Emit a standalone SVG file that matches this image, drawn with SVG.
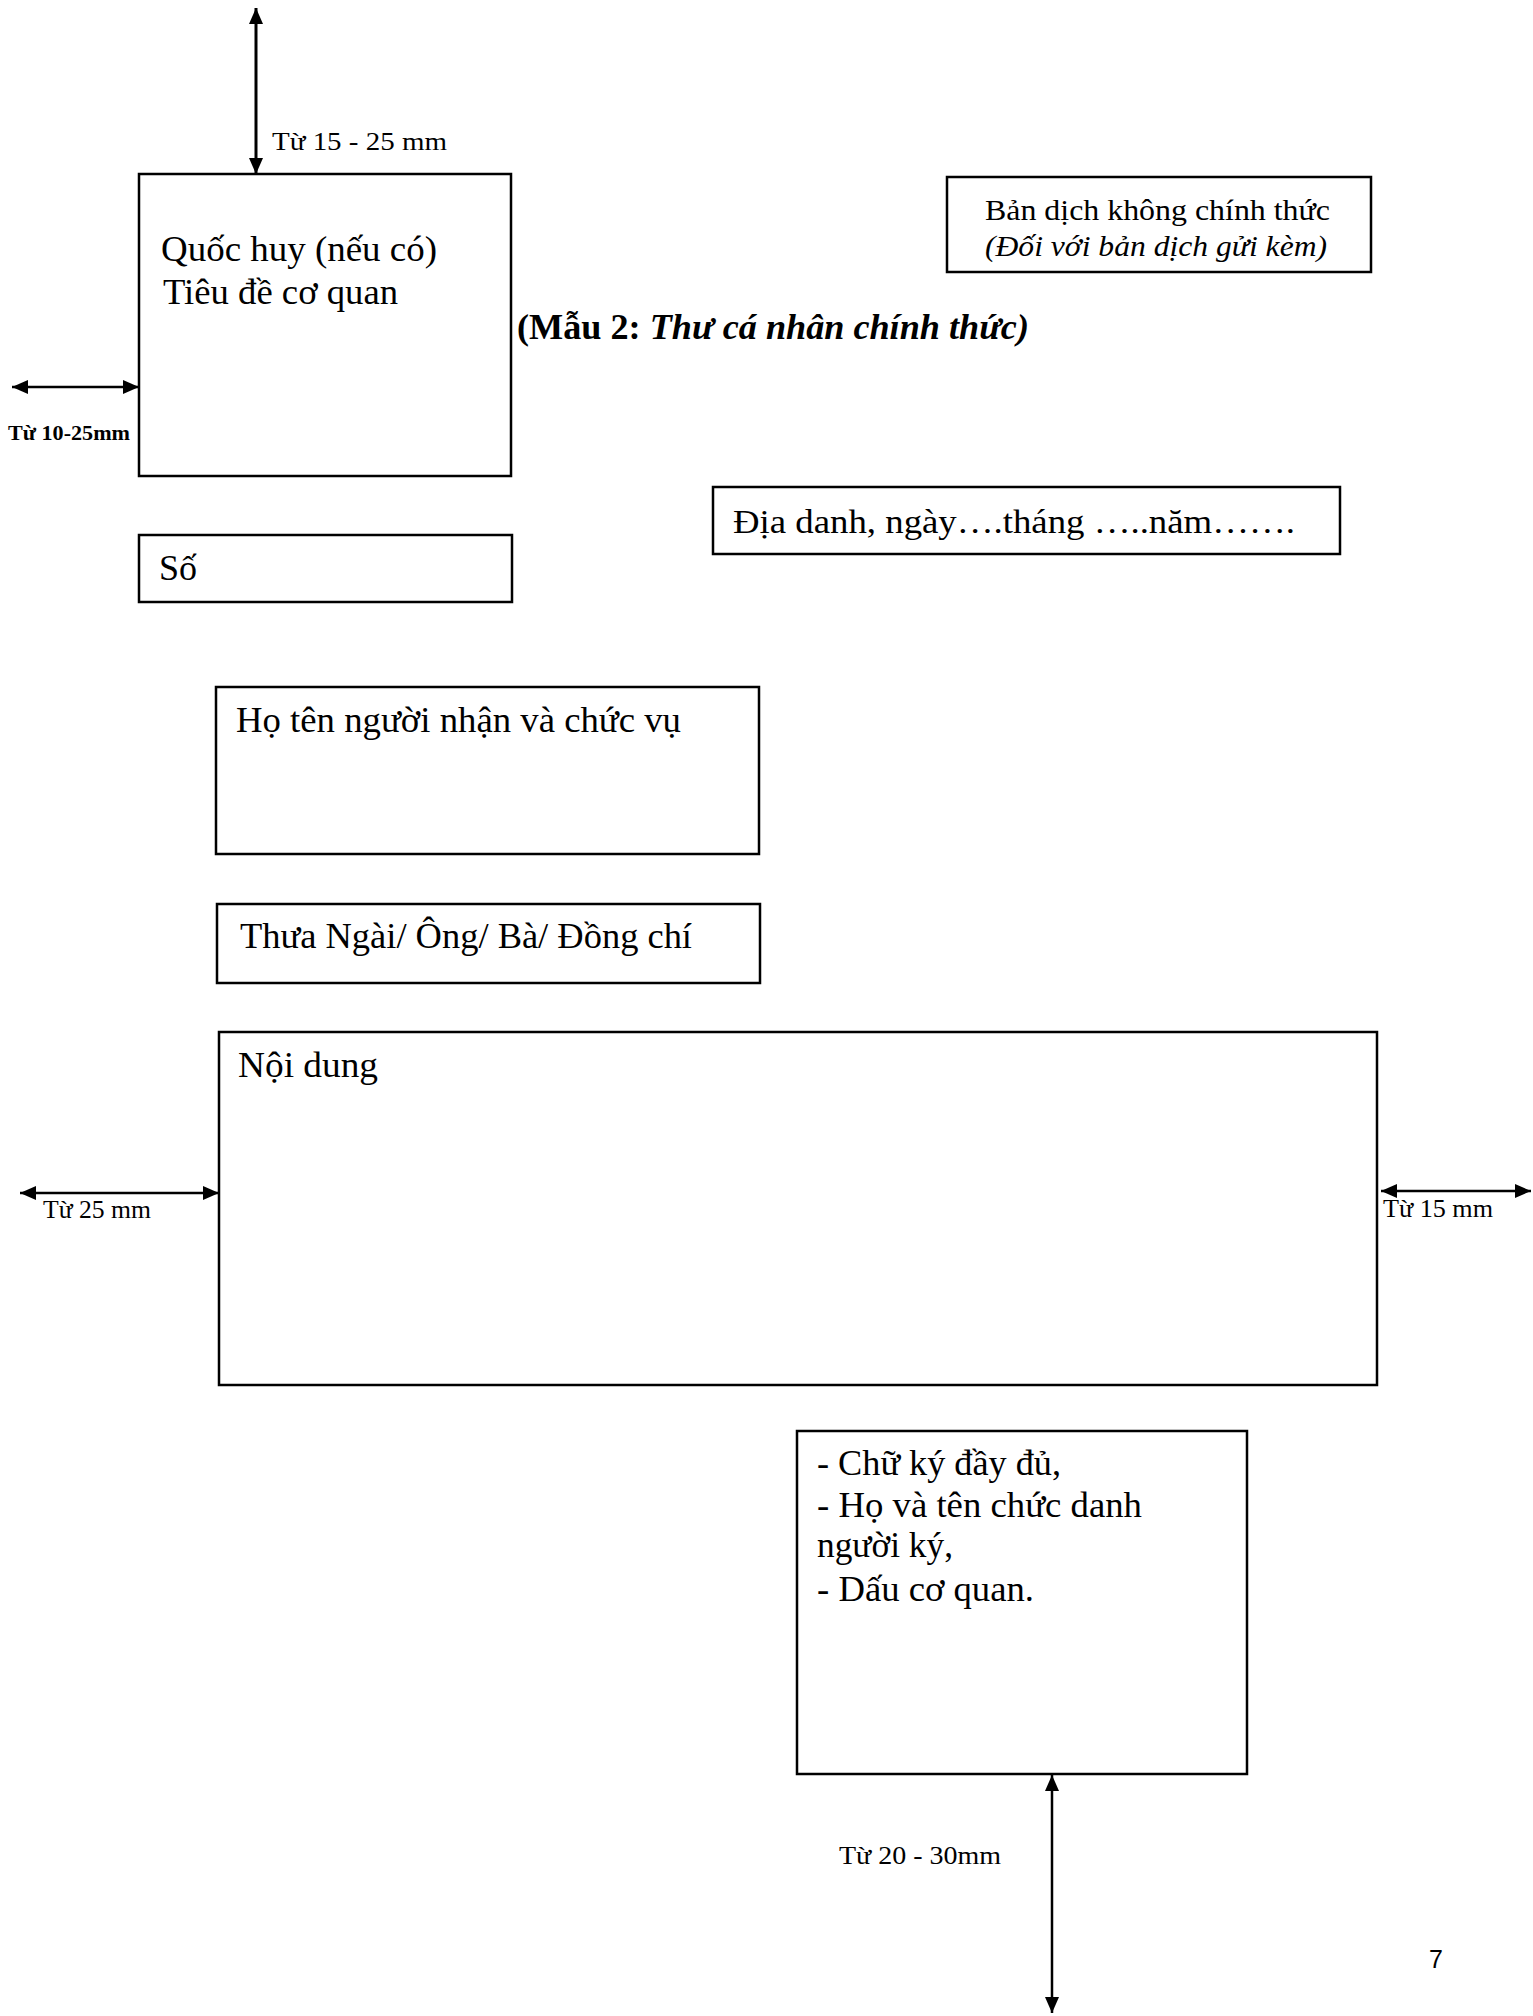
<svg xmlns="http://www.w3.org/2000/svg" width="1533" height="2016" viewBox="0 0 1533 2016">
<style>
  .box { fill: none; stroke: #000; stroke-width: 2.5; }
  .t { font-family: "Liberation Serif", "Times New Roman", serif; fill: #000; }
  .body { font-size: 36px; }
  .lbl { font-size: 25px; }
  .arr { stroke: #000; stroke-width: 2.5; fill: none; marker-start: url(#ah); marker-end: url(#ah); }
</style>
<defs>
  <marker id="ah" markerUnits="userSpaceOnUse" markerWidth="17" markerHeight="15" refX="16" refY="7" orient="auto-start-reverse" viewBox="0 0 17 15">
    <path d="M0,0 L16,7 L0,14 Z" fill="#000"/>
  </marker>
</defs>
<rect width="1533" height="2016" fill="#fff"/>

<g id="connectors">
  <line class="arr" x1="256" y1="8" x2="256" y2="174" style="stroke-width:3"/>
  <line class="arr" x1="12" y1="387" x2="139" y2="387"/>
  <line class="arr" x1="20" y1="1193" x2="219" y2="1193"/>
  <line class="arr" x1="1381" y1="1191" x2="1531" y2="1191"/>
  <line class="arr" x1="1052" y1="1775" x2="1052" y2="2013"/>
</g>

<g id="label-top">
  <text class="t" x="272" y="150" font-size="26" textLength="175" lengthAdjust="spacingAndGlyphs">Từ 15 - 25 mm</text>
</g>
<g id="label-left-top">
  <text class="t" x="8" y="440" font-size="22" font-weight="bold" textLength="122" lengthAdjust="spacingAndGlyphs">Từ 10-25mm</text>
</g>

<g id="node-header">
  <rect class="box" x="139" y="174" width="372" height="302"/>
  <text class="t body" x="161" y="261" textLength="276" lengthAdjust="spacingAndGlyphs">Quốc huy (nếu có)</text>
  <text class="t body" x="163" y="304" textLength="235" lengthAdjust="spacingAndGlyphs">Tiêu đề cơ quan</text>
</g>

<g id="node-so">
  <rect class="box" x="139" y="535" width="373" height="67"/>
  <text class="t body" x="159" y="580">Số</text>
</g>

<g id="node-translation">
  <rect class="box" x="947" y="177" width="424" height="95"/>
  <text class="t" x="985" y="220" font-size="30" textLength="345" lengthAdjust="spacingAndGlyphs">Bản dịch không chính thức</text>
  <text class="t" x="985" y="256" font-size="30" font-style="italic" textLength="342" lengthAdjust="spacingAndGlyphs">(Đối với bản dịch gửi kèm)</text>
</g>

<g id="title">
  <text class="t" x="517" y="339" font-size="35" font-weight="bold" textLength="512" lengthAdjust="spacingAndGlyphs">(Mẫu 2: <tspan font-style="italic">Thư cá nhân chính thức)</tspan></text>
</g>

<g id="node-date">
  <rect class="box" x="713" y="487" width="627" height="67"/>
  <text class="t" x="733" y="533" font-size="33" textLength="562" lengthAdjust="spacingAndGlyphs">Địa danh, ngày….tháng …..năm…….</text>
</g>

<g id="node-recipient">
  <rect class="box" x="216" y="687" width="543" height="167"/>
  <text class="t body" x="236" y="732" textLength="445" lengthAdjust="spacingAndGlyphs">Họ tên người nhận và chức vụ</text>
</g>

<g id="node-greeting">
  <rect class="box" x="217" y="904" width="543" height="79"/>
  <text class="t body" x="240" y="948" textLength="452" lengthAdjust="spacingAndGlyphs">Thưa Ngài/ Ông/ Bà/ Đồng chí</text>
</g>

<g id="node-content">
  <rect class="box" x="219" y="1032" width="1158" height="353"/>
  <text class="t body" x="238" y="1077" textLength="140" lengthAdjust="spacingAndGlyphs">Nội dung</text>
</g>

<g id="label-left-content">
  <text class="t lbl" x="43" y="1218" textLength="108" lengthAdjust="spacingAndGlyphs">Từ 25 mm</text>
</g>
<g id="label-right-content">
  <text class="t lbl" x="1383" y="1217" textLength="110" lengthAdjust="spacingAndGlyphs">Từ 15 mm</text>
</g>

<g id="node-signature">
  <rect class="box" x="797" y="1431" width="450" height="343"/>
  <text class="t body" x="817" y="1475" textLength="244" lengthAdjust="spacingAndGlyphs">- Chữ ký đầy đủ,</text>
  <text class="t body" x="817" y="1517" textLength="325" lengthAdjust="spacingAndGlyphs">- Họ và tên chức danh</text>
  <text class="t body" x="817" y="1557" textLength="136" lengthAdjust="spacingAndGlyphs">người ký,</text>
  <text class="t body" x="817" y="1601" textLength="217" lengthAdjust="spacingAndGlyphs">- Dấu cơ quan.</text>
</g>

<g id="label-bottom">
  <text class="t lbl" x="839" y="1864" textLength="162" lengthAdjust="spacingAndGlyphs">Từ 20 - 30mm</text>
</g>

<g id="page-number">
  <text x="1429" y="1968" font-family="Liberation Sans, Arial, sans-serif" font-size="25">7</text>
</g>
</svg>
